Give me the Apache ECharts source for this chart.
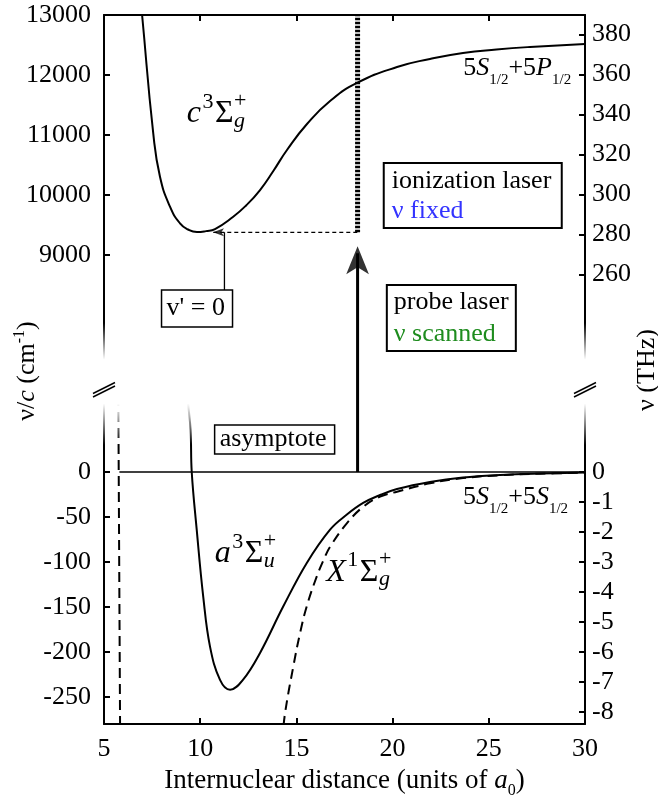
<!DOCTYPE html>
<html>
<head>
<meta charset="utf-8">
<script src="https://cdn.jsdelivr.net/npm/echarts@6.0.0/dist/echarts.min.js"></script>
<style>
  html, body { margin: 0; padding: 0; background: #fff; }
  #main { width: 658px; height: 802px; }
</style>
</head>
<body>
<div id="main"></div>
<script>
// ---- data ----
// c3Σg+ excited potential (cm-1)
const cX = [6.83, 6.98, 7.56, 7.91, 8.43, 8.95, 9.37, 9.83, 10.30, 10.77, 11.70, 12.40, 13.11, 13.80, 14.51, 15.55, 16.75, 18.15, 20.23, 21.94, 23.66, 25.40, 27.14, 30.0];
const cY = [13500, 13000, 11028, 10305, 9805, 9528, 9425, 9383, 9398, 9433, 9633, 9830, 10083, 10400, 10750, 11183, 11567, 11867, 12133, 12267, 12367, 12425, 12467, 12517];
// a3Σu+ triplet ground potential
const aX = [9.30, 9.37, 9.50, 9.56, 9.82, 10.16, 10.51, 11.03, 11.55, 12.22, 13.11, 14.30, 15.54, 16.75, 17.64, 18.47, 19.35, 20.23, 21.94, 23.66, 25.58, 27.66, 30.0];
const aY = [100, 76.7, 46.7, 0, -64.4, -139, -194, -231, -242, -231, -201, -150, -101, -64, -47, -34.4, -25.6, -18.9, -11.1, -6.1, -3.3, -1.7, -0.6];
// X1Σg+ singlet ground potential (dashed), the two visible branches
const xLeftX = [5.84, 5.74];
const xLeftY = [-300, 100];
const xRightX = [14.25, 14.41, 14.84, 15.19, 15.54, 16.06, 16.49, 16.75, 17.62, 18.48, 19.35, 20.23, 21.94, 23.66, 25.58, 27.66, 30.0];
const xRightY = [-300, -268, -216, -179, -149, -116, -94, -83, -57, -38.5, -27.4, -21.9, -12.6, -6.8, -3.6, -1.9, -0.7];
// asymptote and laser markers
const asymX = [5.8, 30];
const laserX = 18.18;      // probe / ionization laser position
const v0Y = 9378;          // v' = 0 level
const v0LinkX = 11.26;     // connector to "v' = 0" box
const v0BoxY = 8417;       // top of the "v' = 0" box
const v0ArrowX = 10.38;    // tip of the small arrow on the dashed level line
// ticks
const topLeftTicks = [9000, 10000, 11000, 12000, 13000];
const topRightTicks = [260, 280, 300, 320, 340, 360, 380];
const botLeftTicks = [-250, -200, -150, -100, -50, 0];
const botRightTicks = [-8, -7, -6, -5, -4, -3, -2, -1, 0];

const K = 0.0299792458;    // cm-1 -> THz

// ---- layout ----
const GL = 104, GR = 585, GT = 15, GB = 724, BRK = 388;
const Y0MAX = 13000, Y0MIN = 13000 - (BRK - GT) / 0.06;
const Y2MIN = -280, Y2MAX = -280 + (GB - BRK) / 0.9;
const FONT = 'Liberation Serif';
const FS = 26;

const zip = (xs, ys) => xs.map((x, i) => [x, ys[i]]);

const chart = echarts.init(document.getElementById('main'), null, { renderer: 'canvas' });

function yAx(grid, pos, min, max, ticks) {
  return {
    type: 'value', gridIndex: grid, position: pos, min: min, max: max,
    axisLine: { show: true, onZero: false, lineStyle: { color: '#000', width: 2 } },
    axisTick: { show: true, inside: true, length: 6, customValues: ticks, lineStyle: { color: '#000', width: 2 } },
    axisLabel: { show: true, customValues: ticks, formatter: v => String(v), color: '#000', fontFamily: FONT, fontSize: FS, margin: pos === 'left' ? 13 : 7 },
    splitLine: { show: false }
  };
}
function xAx(grid, pos, showLabel) {
  return {
    type: 'value', gridIndex: grid, position: pos, min: 5, max: 30, interval: 5,
    axisLine: { show: true, onZero: false, lineStyle: { color: '#000', width: 2 } },
    axisTick: { show: true, inside: true, length: 6, lineStyle: { color: '#000', width: 2 } },
    axisLabel: { show: showLabel, color: '#000', fontFamily: FONT, fontSize: FS, margin: 12 },
    splitLine: { show: false }
  };
}
function lineS(xi, yi, data, style, extra) {
  return Object.assign({
    type: 'line', xAxisIndex: xi, yAxisIndex: yi, data: data,
    symbol: 'none', showSymbol: false, silent: true, animation: false,
    lineStyle: Object.assign({ color: '#000', width: 2 }, style)
  }, extra || {});
}

const option = {
  animation: false,
  backgroundColor: '#fff',
  grid: [
    { left: GL, right: 658 - GR, top: GT, height: BRK - GT, containLabel: false, outerBoundsMode: 'none' },
    { left: GL, right: 658 - GR, top: BRK, height: GB - BRK, containLabel: false, outerBoundsMode: 'none' }
  ],
  xAxis: [xAx(0, 'top', false), xAx(1, 'bottom', true)],
  yAxis: [
    yAx(0, 'left', Y0MIN, Y0MAX, topLeftTicks),
    yAx(0, 'right', Y0MIN * K, Y0MAX * K, topRightTicks),
    yAx(1, 'left', Y2MIN, Y2MAX, botLeftTicks),
    yAx(1, 'right', Y2MIN * K, Y2MAX * K, botRightTicks)
  ],
  series: [
    lineS(0, 0, zip(cX, cY), {}, { smooth: 0.5 }),
    lineS(1, 2, zip(aX, aY), {}, { smooth: 0.4 }),
    lineS(1, 2, zip(xLeftX, xLeftY), { type: [10, 6] }),
    lineS(1, 2, zip(xRightX, xRightY), { type: [10, 6] }, { smooth: 0.4 }),
    lineS(1, 2, zip(asymX, [0, 0]), { width: 1.5 }),
    // laser arrow, drawn above the break fade
    lineS(1, 2, [[laserX, 0], [laserX, Y2MAX]], { width: 3 }, { z: 20 }),
    lineS(0, 0, [[laserX, Y0MIN], [laserX, v0Y - 350]], { width: 3 }, { z: 20 }),
    {
      type: 'scatter', xAxisIndex: 0, yAxisIndex: 0, data: [[laserX, v0Y]], silent: true, z: 21,
      symbol: 'arrow', symbolSize: [17, 28], symbolOffset: [0, 14], itemStyle: { color: '#000' }
    },
    lineS(0, 0, [[laserX, v0Y], [laserX, Y0MAX]], { width: 5, type: [2.5, 1.5] }),
    lineS(0, 0, [[v0ArrowX + 0.3, v0Y], [laserX, v0Y]], { width: 1.2, type: [4, 3] }),
    {
      type: 'scatter', xAxisIndex: 0, yAxisIndex: 0, data: [[v0ArrowX, v0Y]], silent: true,
      symbol: 'arrow', symbolSize: [6, 11], symbolRotate: 90, symbolOffset: [5.5, 0], itemStyle: { color: '#000' }
    },
    lineS(0, 0, [[v0LinkX, v0Y], [v0LinkX, v0BoxY]], { width: 1.3 })
  ]
};
chart.setOption(option);

// ---- text helpers ----
const ctx2d = document.createElement('canvas').getContext('2d');
const fontStr = (size, it) => (it ? 'italic ' : '') + size + 'px "' + FONT + '"';
function measure(t, size, it) { ctx2d.font = fontStr(size, it); return ctx2d.measureText(t).width; }
function txt(x, base, t, size, it, color) {
  return {
    type: 'text', x: x, y: base - 0.33 * size, z: 30, silent: true,
    style: { text: t, fill: color || '#000', font: fontStr(size, it), align: 'left', verticalAlign: 'middle' }
  };
}
// segs: {t, size, it, dy, gap, color}; baseline at y=0
function layout(segs) {
  let w = 0; const out = [];
  segs.forEach(s => {
    out.push(txt(w, s.dy || 0, s.t, s.size || FS, s.it, s.color));
    w += measure(s.t, s.size || FS, s.it) + (s.gap || 0);
  });
  return { children: out, width: w };
}
function row(segs, x, y, align, extra) {
  const l = layout(segs);
  const sx = align === 'right' ? -l.width : align === 'center' ? -l.width / 2 : 0;
  l.children.forEach(c => { c.x += sx; });
  return Object.assign({ type: 'group', x: x, y: y, children: l.children }, extra || {});
}
function term(p, letter, mult, sub) {
  const F = 32, S = 22;
  const l = layout([
    { t: letter, size: F, it: true, gap: 1.5 },
    { t: mult, size: S, dy: -15, gap: 1.5 },
    { t: 'Σ', size: F, gap: 0.5 }
  ]);
  l.children.push(txt(l.width, -16, '+', S));
  l.children.push(txt(l.width, 4, sub, S, true));
  return { type: 'group', x: p[0], y: p[1], children: l.children };
}
function box(p, w, h, lw, lines) {
  const ch = [{ type: 'rect', z: 29, silent: true, shape: { x: 0, y: 0, width: w, height: h }, style: { fill: '#fff', stroke: '#000', lineWidth: lw } }];
  lines.forEach(l => ch.push(txt(l.dx, l.base, l.t, FS, false, l.color)));
  return { type: 'group', x: p[0], y: p[1], children: ch };
}

const P0 = v => chart.convertToPixel({ xAxisIndex: 0, yAxisIndex: 0 }, v);
const P1 = v => chart.convertToPixel({ xAxisIndex: 1, yAxisIndex: 2 }, v);

const fade = new echarts.graphic.LinearGradient(0, 0, 0, 1, [
  { offset: 0, color: 'rgba(255,255,255,0)' },
  { offset: 0.30, color: 'rgba(255,255,255,1)' },
  { offset: 0.66, color: 'rgba(255,255,255,1)' },
  { offset: 1, color: 'rgba(255,255,255,0)' }
]);
const brk = (cx) => [
  { type: 'line', z: 12, silent: true, shape: { x1: cx - 11, y1: BRK + 9, x2: cx + 11, y2: BRK - 2 }, style: { stroke: '#000', lineWidth: 1.5 } },
  { type: 'line', z: 12, silent: true, shape: { x1: cx - 11, y1: BRK + 5.5, x2: cx + 11, y2: BRK - 5.5 }, style: { stroke: '#000', lineWidth: 1.5 } }
];

const graphics = [
  { type: 'rect', z: 10, silent: true, shape: { x: GL - 15, y: 323, width: GR - GL + 30, height: 122 }, style: { fill: fade } },
  ...brk(GL), ...brk(GR),
  box(P0([19.54, 10533]), 178, 65, 2, [
    { t: 'ionization laser', dx: 8, base: 27 },
    { t: 'ν fixed', dx: 8, base: 57, color: '#3333ff' }
  ]),
  box(P0([19.70, 8500]), 129, 66, 2, [
    { t: 'probe laser', dx: 7, base: 26 },
    { t: 'ν scanned', dx: 7, base: 58, color: '#1e8c1e' }
  ]),
  box(P0([7.99, v0BoxY]), 71, 37, 1.5, [{ t: "v' = 0", dx: 5, base: 27 }]),
  box(P1([10.75, 52.2]), 120, 29, 1.5, [{ t: 'asymptote', dx: 5, base: 23 }]),
  term(P0([9.30, 11183]), 'c', '3', 'g'),
  term(P1([10.75, -102.2]), 'a', '3', 'u'),
  term(P1([16.55, -123.3]), 'X', '1', 'g'),
  row([{ t: '5' }, { t: 'S', it: true }, { t: '1/2', size: 15, dy: 8 }, { t: '+5' }, { t: 'P', it: true }, { t: '1/2', size: 15, dy: 8 }],
      P0([29.28, 11967])[0], P0([29.28, 11967])[1], 'right'),
  row([{ t: '5' }, { t: 'S', it: true }, { t: '1/2', size: 15, dy: 8 }, { t: '+5' }, { t: 'S', it: true }, { t: '1/2', size: 15, dy: 8 }],
      P1([29.12, -37.8])[0], P1([29.12, -37.8])[1], 'right'),
  // axis titles
  row([{ t: 'Internuclear distance (units of ', size: 27 }, { t: 'a', it: true, size: 27 }, { t: '0', size: 16, dy: 6 }, { t: ')', size: 27 }],
      (GL + GR) / 2, 790, 'center'),
  row([{ t: 'ν/' }, { t: 'c', it: true }, { t: ' (cm' }, { t: '-1', size: 16, dy: -11 }, { t: ')' }],
      36, 371, 'center', { rotation: Math.PI / 2 }),
  row([{ t: 'ν (THz)' }], 656, 370, 'center', { rotation: Math.PI / 2 })
];
chart.setOption({ graphic: graphics });
</script>
</body>
</html>
